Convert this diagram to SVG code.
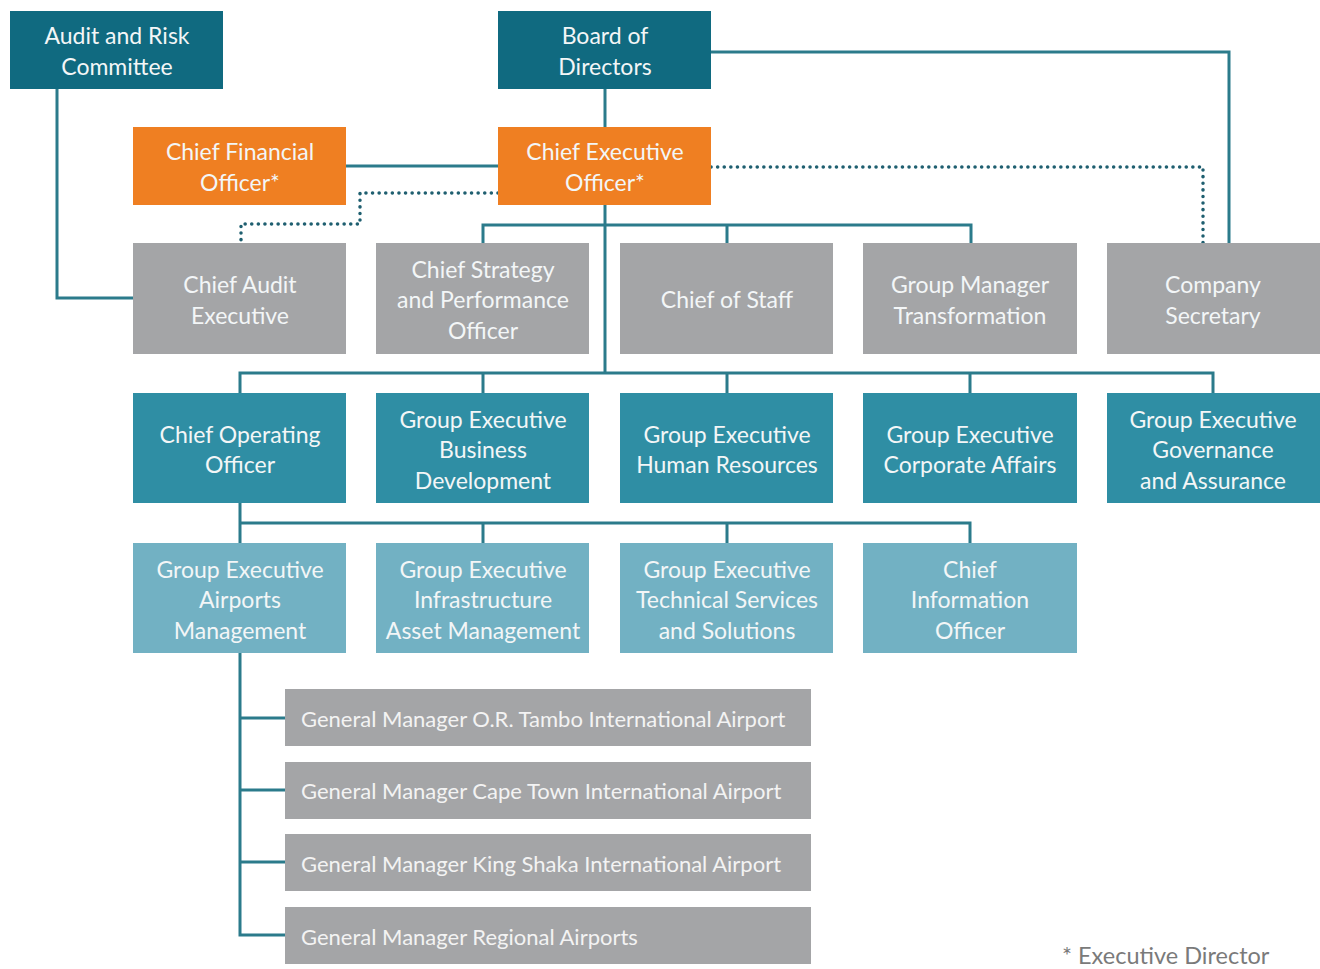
<svg xmlns="http://www.w3.org/2000/svg" width="1320" height="969" viewBox="0 0 1320 969">
<style>
.t{font-family:Lato,"Open Sans","Liberation Sans",sans-serif;font-size:23px;fill:#f3f6f7;text-anchor:middle;dominant-baseline:central}
.gm{font-family:Lato,"Open Sans","Liberation Sans",sans-serif;font-size:22px;fill:#f3f3f3;dominant-baseline:central}
.dark{fill:#106a80}
.orange{fill:#ef7f22}
.gray{fill:#a4a5a7}
.mid{fill:#2f8ea4}
.light{fill:#72b1c3}
.ln{fill:none;stroke:#2b7b8b;stroke-width:3}
.dot{fill:none;stroke:#1f5f70;stroke-width:3.5;stroke-dasharray:0.1 6.5;stroke-linecap:round}
.foot{font-family:Lato,"Open Sans","Liberation Sans",sans-serif;font-size:23.5px;fill:#7a7a7a}
</style>
<rect width="1320" height="969" fill="#ffffff"/>
<g id="connectors">
<path class="ln" d="M57 89V298H133"/>
<path class="ln" d="M605 89V127"/>
<path class="ln" d="M711 52H1229V243"/>
<path class="ln" d="M346 166H498"/>
<path class="ln" d="M605 205V373"/>
<path class="ln" d="M483 243V225H971V243M727 225V243"/>
<path class="ln" d="M240 393V373H1213V393M483 373V393M727 373V393M970 373V393"/>
<path class="ln" d="M240 503V543M240 523H970V543M483 523V543M727 523V543"/>
<path class="ln" d="M240 653V935H285M240 718H285M240 790H285M240 862H285"/>
<path class="dot" d="M498 193H360V224H241V243"/>
<path class="dot" d="M711 167H1203V243"/>
</g>
<g id="audit"><rect class="dark" x="10" y="11" width="213" height="78"/><text class="t" x="117" y="35">Audit and Risk</text><text class="t" x="117" y="66">Committee</text></g>
<g id="board"><rect class="dark" x="498" y="11" width="213" height="78"/><text class="t" x="605" y="35">Board of</text><text class="t" x="605" y="66">Directors</text></g>
<g id="cfo"><rect class="orange" x="133" y="127" width="213" height="78"/><text class="t" x="240" y="151">Chief Financial</text><text class="t" x="240" y="182">Officer*</text></g>
<g id="ceo"><rect class="orange" x="498" y="127" width="213" height="78"/><text class="t" x="605" y="151">Chief Executive</text><text class="t" x="605" y="182">Officer*</text></g>
<g id="cae"><rect class="gray" x="133" y="243" width="213" height="111"/><text class="t" x="240" y="284">Chief Audit</text><text class="t" x="240" y="315">Executive</text></g>
<g id="cspo"><rect class="gray" x="376" y="243" width="213" height="111"/><text class="t" x="483" y="269">Chief Strategy</text><text class="t" x="483" y="299">and Performance</text><text class="t" x="483" y="330">Officer</text></g>
<g id="cos"><rect class="gray" x="620" y="243" width="213" height="111"/><text class="t" x="727" y="299">Chief of Staff</text></g>
<g id="gmt"><rect class="gray" x="863" y="243" width="214" height="111"/><text class="t" x="970" y="284">Group Manager</text><text class="t" x="970" y="315">Transformation</text></g>
<g id="cosec"><rect class="gray" x="1107" y="243" width="213" height="111"/><text class="t" x="1213" y="284">Company</text><text class="t" x="1213" y="315">Secretary</text></g>
<g id="coo"><rect class="mid" x="133" y="393" width="213" height="110"/><text class="t" x="240" y="434">Chief Operating</text><text class="t" x="240" y="464">Officer</text></g>
<g id="gebd"><rect class="mid" x="376" y="393" width="213" height="110"/><text class="t" x="483" y="419">Group Executive</text><text class="t" x="483" y="449">Business</text><text class="t" x="483" y="480">Development</text></g>
<g id="gehr"><rect class="mid" x="620" y="393" width="213" height="110"/><text class="t" x="727" y="434">Group Executive</text><text class="t" x="727" y="464">Human Resources</text></g>
<g id="geca"><rect class="mid" x="863" y="393" width="214" height="110"/><text class="t" x="970" y="434">Group Executive</text><text class="t" x="970" y="464">Corporate Affairs</text></g>
<g id="gega"><rect class="mid" x="1107" y="393" width="213" height="110"/><text class="t" x="1213" y="419">Group Executive</text><text class="t" x="1213" y="449">Governance</text><text class="t" x="1213" y="480">and Assurance</text></g>
<g id="geam"><rect class="light" x="133" y="543" width="213" height="110"/><text class="t" x="240" y="569">Group Executive</text><text class="t" x="240" y="599">Airports</text><text class="t" x="240" y="630">Management</text></g>
<g id="geiam"><rect class="light" x="376" y="543" width="213" height="110"/><text class="t" x="483" y="569">Group Executive</text><text class="t" x="483" y="599">Infrastructure</text><text class="t" x="483" y="630">Asset Management</text></g>
<g id="getss"><rect class="light" x="620" y="543" width="213" height="110"/><text class="t" x="727" y="569">Group Executive</text><text class="t" x="727" y="599">Technical Services</text><text class="t" x="727" y="630">and Solutions</text></g>
<g id="cio"><rect class="light" x="863" y="543" width="214" height="110"/><text class="t" x="970" y="569">Chief</text><text class="t" x="970" y="599">Information</text><text class="t" x="970" y="630">Officer</text></g>
<g id="gm1"><rect class="gray" x="285" y="689" width="526" height="57"/><text class="gm" x="301" y="718">General Manager O.R. Tambo International Airport</text></g>
<g id="gm2"><rect class="gray" x="285" y="762" width="526" height="57"/><text class="gm" x="301" y="790">General Manager Cape Town International Airport</text></g>
<g id="gm3"><rect class="gray" x="285" y="834" width="526" height="57"/><text class="gm" x="301" y="863">General Manager King Shaka International Airport</text></g>
<g id="gm4"><rect class="gray" x="285" y="907" width="526" height="57"/><text class="gm" x="301" y="936">General Manager Regional Airports</text></g>
<g id="footnote"><text class="foot" x="1062" y="964">* Executive Director</text></g>
</svg>
